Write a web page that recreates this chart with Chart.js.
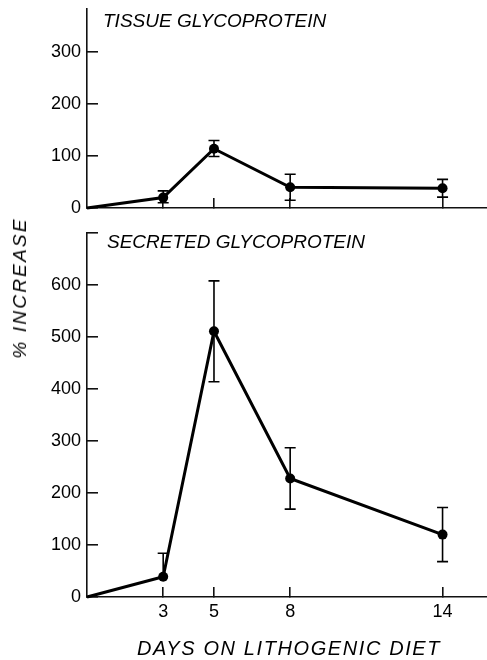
<!DOCTYPE html>
<html>
<head>
<meta charset="utf-8">
<script src="https://cdn.jsdelivr.net/npm/chart.js@4/dist/chart.umd.min.js"></script>
<style>
  html, body { margin: 0; padding: 0; background: #fff; }
  body { width: 487px; height: 660px; position: relative; overflow: hidden; }
  .box { position: absolute; left: 0; width: 487px; }
  .lbl { position: absolute; white-space: nowrap; color: #000; font-family: 'Liberation Sans', Arial, sans-serif; font-style: italic; }
</style>
</head>
<body>
<div class="box" style="top:0;height:220px"><canvas id="cTop"></canvas></div>
<div class="box" style="top:220px;height:440px"><canvas id="cBot"></canvas></div>
<div class="lbl" id="yTitle" style="left:20px;top:288px;font-size:19px;letter-spacing:2.2px;transform:translate(-50%,-50%) rotate(-90deg)"></div>
<div class="lbl" id="xTitle" style="left:289px;top:648px;font-size:20px;letter-spacing:1.6px;transform:translate(-50%,-50%)"></div>
<script>
// ---- data ----
const days = [0, 3, 5, 8, 14];
const dayTicks = [3, 5, 8, 14];
const tissueMean = [0, 20, 114, 40, 38];
const tissueErrUp = [null, 13, 16, 25, 17];
const tissueErrDown = [null, 10, 15, 25, 17];
const secretedMean = [0, 39, 511, 228, 120];
const secretedErrUp = [null, 45, 97, 59, 52];
const secretedErrDown = [null, null, 97, 59, 52];
const tissueTicks = [0, 100, 200, 300];
const secretedTicks = [0, 100, 200, 300, 400, 500, 600];
const tissueTitle = 'TISSUE GLYCOPROTEIN';
const secretedTitle = 'SECRETED GLYCOPROTEIN';
const yAxisTitle = '% INCREASE';
const xAxisTitle = 'DAYS ON LITHOGENIC DIET';

document.getElementById('yTitle').textContent = yAxisTitle;
document.getElementById('xTitle').textContent = xAxisTitle;

const INK = '#000';
const AXIS = '#111';

const errorBarPlugin = {
  id: 'errorBars',
  afterDatasetsDraw(chart, args, opts) {
    const xs = chart.scales.x, ys = chart.scales.y;
    const ctx = chart.ctx;
    const mean = chart.data.datasets[0].data;
    ctx.save();
    ctx.strokeStyle = INK;
    ctx.lineWidth = 1.6;
    const cap = 5.5;
    mean.forEach((p, i) => {
      const x = xs.getPixelForValue(p.x);
      const yc = ys.getPixelForValue(p.y);
      const up = opts.up[i], dn = opts.down[i];
      if (up != null) {
        const yt = ys.getPixelForValue(p.y + up);
        ctx.beginPath();
        ctx.moveTo(x, yc); ctx.lineTo(x, yt);
        ctx.moveTo(x - cap, yt); ctx.lineTo(x + cap, yt);
        ctx.stroke();
      }
      if (dn != null) {
        const yb = ys.getPixelForValue(p.y - dn);
        ctx.beginPath();
        ctx.moveTo(x, yc); ctx.lineTo(x, yb);
        ctx.moveTo(x - cap, yb); ctx.lineTo(x + cap, yb);
        ctx.stroke();
      }
    });
    ctx.restore();
  }
};

const panelLabelPlugin = {
  id: 'panelLabel',
  afterDraw(chart, args, opts) {
    const ctx = chart.ctx;
    const a = chart.chartArea;
    ctx.save();
    ctx.fillStyle = INK;
    ctx.font = 'italic 19px "Liberation Sans", Arial, sans-serif';
    ctx.textBaseline = 'middle';
    ctx.textAlign = 'left';
    ctx.fillText(opts.text, a.left + opts.dx, a.top + opts.dy);
    ctx.restore();
  }
};

function noPad(s) { s.paddingTop = 0; s.paddingBottom = 0; s.paddingLeft = 0; s.paddingRight = 0; }

function makeChart(id, cfg) {
  const pts = days.map((d, i) => ({ x: d, y: cfg.mean[i] }));
  return new Chart(document.getElementById(id), {
    type: 'line',
    data: {
      datasets: [{
        data: pts,
        borderColor: INK,
        borderWidth: 3,
        backgroundColor: INK,
        pointBackgroundColor: INK,
        pointBorderColor: INK,
        pointRadius: days.map(d => d === 0 ? 0 : 5),
        pointHoverRadius: days.map(d => d === 0 ? 0 : 5),
        pointBorderWidth: 0,
        tension: 0,
        fill: false,
        clip: 6
      }]
    },
    plugins: [errorBarPlugin, panelLabelPlugin],
    options: {
      responsive: true,
      maintainAspectRatio: false,
      animation: false,
      events: [],
      layout: { autoPadding: false, padding: { top: cfg.padTop, bottom: cfg.padBottom, left: 0, right: 0 } },
      plugins: {
        legend: { display: false },
        tooltip: { enabled: false },
        errorBars: { up: cfg.up, down: cfg.down },
        panelLabel: { text: cfg.title, dx: cfg.titleDx, dy: cfg.titleDy }
      },
      scales: {
        x: {
          type: 'linear',
          min: 0,
          max: 15.75,
          afterBuildTicks: s => { s.ticks = dayTicks.map(v => ({ value: v })); },
          afterFit: s => { s.height = cfg.xHeight; noPad(s); },
          border: { display: true, color: AXIS, width: 1.6 },
          grid: { drawOnChartArea: false, drawTicks: true, tickLength: -10, color: AXIS, lineWidth: 1.6 },
          ticks: {
            display: cfg.xLabels,
            color: INK,
            padding: 14,
            maxRotation: 0,
            font: { family: '"Liberation Sans", Arial, sans-serif', size: 18 },
            callback: v => String(v)
          }
        },
        y: {
          type: 'linear',
          min: 0,
          max: cfg.yMax,
          afterBuildTicks: s => { s.ticks = cfg.yTicks.map(v => ({ value: v })); },
          afterFit: s => { s.width = 87; noPad(s); },
          border: { display: true, color: AXIS, width: 1.6 },
          grid: { drawOnChartArea: false, drawTicks: true, tickLength: -11, color: AXIS, lineWidth: 1.6 },
          ticks: {
            color: INK,
            padding: 17,
            font: { family: '"Liberation Sans", Arial, sans-serif', size: 18 },
            callback: v => (cfg.yLabels.includes(v) ? String(v) : '')
          }
        }
      }
    }
  });
}

makeChart('cTop', {
  mean: tissueMean, up: tissueErrUp, down: tissueErrDown,
  yMax: 383, yTicks: tissueTicks, yLabels: tissueTicks,
  padTop: 9, padBottom: 12, xHeight: 0, xLabels: false,
  title: tissueTitle, titleDx: 16, titleDy: 13
});

makeChart('cBot', {
  mean: secretedMean, up: secretedErrUp, down: secretedErrDown,
  yMax: 700, yTicks: secretedTicks.concat([700]), yLabels: secretedTicks,
  padTop: 13, padBottom: 23, xHeight: 40, xLabels: true,
  title: secretedTitle, titleDx: 20, titleDy: 10
});
</script>
</body>
</html>
